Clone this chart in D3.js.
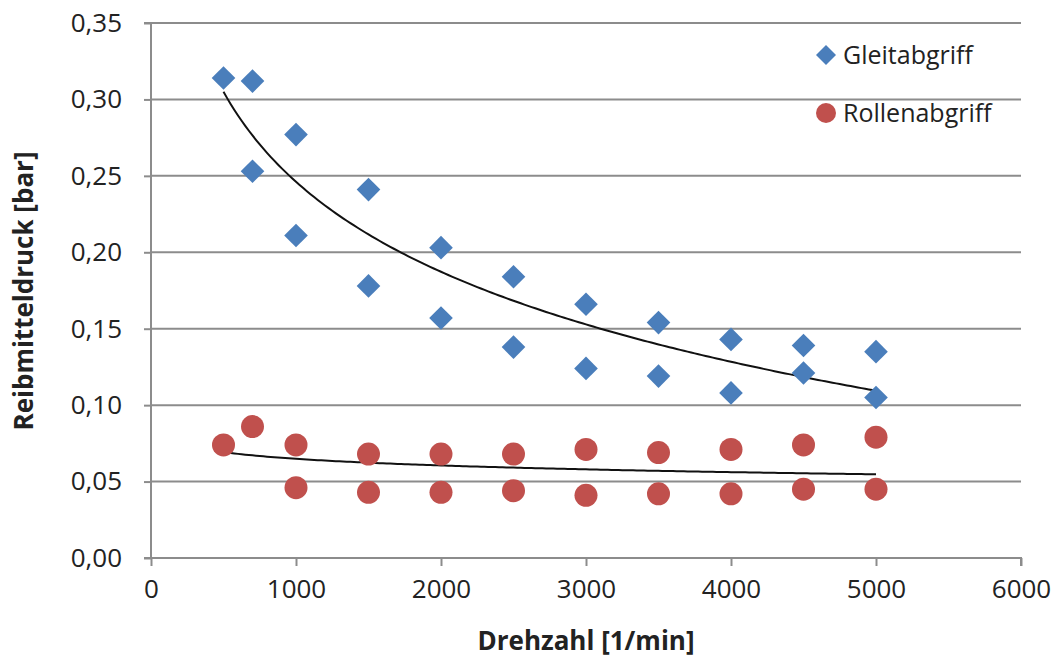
<!DOCTYPE html>
<html>
<head>
<meta charset="utf-8">
<script src="https://cdn.jsdelivr.net/npm/d3@7"></script>
<style>
  body { margin: 0; background: #fff; }
  text { font-family: "Open Sans", sans-serif; fill: #222; }
</style>
</head>
<body>
<script>
// Drehzahl values (x) for each measured point
const gleitX = [500, 700, 700, 1000, 1000, 1500, 1500, 2000, 2000, 2500, 2500, 3000, 3000, 3500, 3500, 4000, 4000, 4500, 4500, 5000, 5000];
const gleitY = [0.314, 0.312, 0.253, 0.277, 0.211, 0.241, 0.178, 0.203, 0.157, 0.184, 0.138, 0.166, 0.124, 0.154, 0.119, 0.143, 0.108, 0.139, 0.121, 0.135, 0.105];

const rolleX = [500, 700, 1000, 1000, 1500, 1500, 2000, 2000, 2500, 2500, 3000, 3000, 3500, 3500, 4000, 4000, 4500, 4500, 5000, 5000];
const rolleY = [0.074, 0.086, 0.074, 0.046, 0.068, 0.043, 0.068, 0.043, 0.068, 0.044, 0.071, 0.041, 0.069, 0.042, 0.071, 0.042, 0.074, 0.045, 0.079, 0.045];

const seriesNames = ["Gleitabgriff", "Rollenabgriff"];
const xTicks = [0, 1000, 2000, 3000, 4000, 5000, 6000];
const yTicks = [0, 0.05, 0.10, 0.15, 0.20, 0.25, 0.30, 0.35];

const W = 1059, H = 662;
const margin = { top: 23, right: 38, bottom: 104, left: 151 };
const width = W - margin.left - margin.right;
const height = H - margin.top - margin.bottom;

const svg = d3.select("body").append("svg")
  .attr("width", W)
  .attr("height", H);

const g = svg.append("g").attr("transform", `translate(${margin.left},${margin.top})`);

const x = d3.scaleLinear().domain([0, 6000]).range([0, width]);
const y = d3.scaleLinear().domain([0, 0.35]).range([height, 0]);

const fmt = d => d3.format(".2f")(d).replace(".", ",");

// horizontal gridlines
g.append("g")
  .selectAll("line")
  .data(yTicks.filter(d => d > 0))
  .join("line")
  .attr("x1", 0).attr("x2", width)
  .attr("y1", d => y(d)).attr("y2", d => y(d))
  .attr("stroke", "#8c8c8c")
  .attr("stroke-width", 2);

// axes
const gx = g.append("g").attr("transform", `translate(0,${height})`)
  .call(d3.axisBottom(x).tickValues(xTicks).tickSize(8).tickPadding(14).tickFormat(d3.format("d")));
const gy = g.append("g")
  .call(d3.axisLeft(y).tickValues(yTicks).tickSize(7).tickPadding(22).tickFormat(fmt));

[gx, gy].forEach(a => {
  a.select(".domain").attr("stroke", "#8c8c8c").attr("stroke-width", 2);
  a.selectAll(".tick line").attr("stroke", "#8c8c8c").attr("stroke-width", 2);
  a.selectAll(".tick text").style("font-size", "26px").attr("fill", "#333");
});
gy.select(".domain").attr("d", `M-7,${y(0.35)}H0V${height}`);
gx.select(".domain").attr("d", `M-7,0H${width}V8`);

// logarithmic trend lines (least squares on ln x), as Excel does
function logFit(xs, ys) {
  const lx = xs.map(Math.log);
  const mx = d3.mean(lx), my = d3.mean(ys);
  const b = d3.sum(lx, (v, i) => (v - mx) * (ys[i] - my)) / d3.sum(lx, v => (v - mx) * (v - mx));
  const a = my - b * mx;
  return v => a + b * Math.log(v);
}

const line = d3.line().x(d => x(d[0])).y(d => y(d[1]));
[[gleitX, gleitY], [rolleX, rolleY]].forEach(([xs, ys]) => {
  const f = logFit(xs, ys);
  const pts = d3.range(d3.min(xs), d3.max(xs) + 1, 25).map(v => [v, f(v)]);
  g.append("path")
    .attr("d", line(pts))
    .attr("fill", "none")
    .attr("stroke", "#111")
    .attr("stroke-width", 2);
});

// points
const diamond = d3.symbol().type(d3.symbolSquare).size(280);
g.append("g")
  .selectAll("path")
  .data(gleitX.map((v, i) => [v, gleitY[i]]))
  .join("path")
  .attr("d", diamond)
  .attr("transform", d => `translate(${x(d[0])},${y(d[1])}) rotate(45)`)
  .attr("fill", "#4a7ebb");

g.append("g")
  .selectAll("circle")
  .data(rolleX.map((v, i) => [v, rolleY[i]]))
  .join("circle")
  .attr("cx", d => x(d[0]))
  .attr("cy", d => y(d[1]))
  .attr("r", 11.5)
  .attr("fill", "#c0504d");

// legend
const legend = svg.append("g").attr("transform", "translate(826,55)");
legend.append("path")
  .attr("d", d3.symbol().type(d3.symbolSquare).size(200))
  .attr("transform", "rotate(45)")
  .attr("fill", "#4a7ebb");
legend.append("text").attr("x", 17).attr("y", 0).attr("dy", "0.35em")
  .style("font-size", "25px").text(seriesNames[0]);
legend.append("circle").attr("cx", 0).attr("cy", 58).attr("r", 10).attr("fill", "#c0504d");
legend.append("text").attr("x", 17).attr("y", 58).attr("dy", "0.35em")
  .style("font-size", "25px").text(seriesNames[1]);

// axis titles
svg.append("text")
  .attr("x", margin.left + x(3000)).attr("y", 650)
  .attr("text-anchor", "middle")
  .style("font-size", "26px").style("font-weight", "bold")
  .text("Drehzahl [1/min]");
svg.append("text")
  .attr("transform", "translate(33,291) rotate(-90)")
  .attr("text-anchor", "middle")
  .style("font-size", "26px").style("font-weight", "bold")
  .text("Reibmitteldruck [bar]");
</script>
</body>
</html>
